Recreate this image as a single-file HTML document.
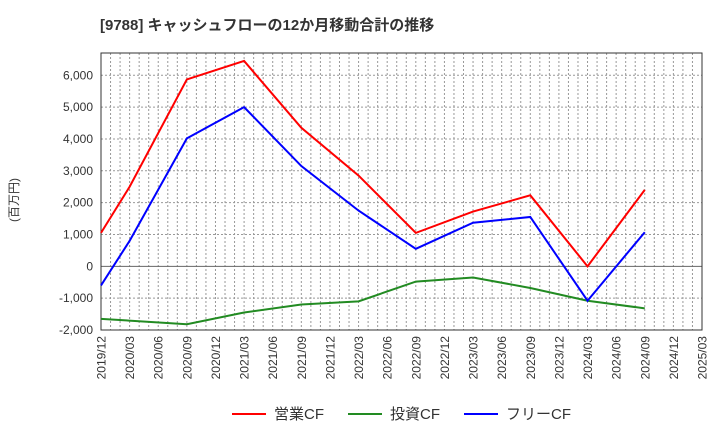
<!DOCTYPE html>
<html><head><meta charset="utf-8"><style>
body{margin:0;background:#fff;font-family:"Liberation Sans","Noto Sans CJK JP",sans-serif}
</style></head><body>
<svg id="c" width="720" height="440" xmlns="http://www.w3.org/2000/svg">
<text x="100" y="30" font-size="15" font-weight="bold" fill="#333" font-family="Liberation Sans, Noto Sans CJK JP, sans-serif">[9788]  キャッシュフローの12か月移動合計の推移</text>
<text transform="translate(18,200) rotate(-90)" text-anchor="middle" font-size="12" fill="#333" font-family="Liberation Sans, Noto Sans CJK JP, sans-serif">(百万円)</text>
<g id="grid"></g><g id="axes"></g><g id="series"></g><g id="legend"></g>
</svg>
<script>
const xLabels=["2019/12","2020/03","2020/06","2020/09","2020/12","2021/03","2021/06","2021/09","2021/12","2022/03","2022/06","2022/09","2022/12","2023/03","2023/06","2023/09","2023/12","2024/03","2024/06","2024/09","2024/12","2025/03"];
const yTicks=[-2000,-1000,0,1000,2000,3000,4000,5000,6000];
const pointIdx=[0,1,3,5,7,9,11,13,15,17,19];
const opCF=[1050,2500,5870,6450,4350,2850,1050,1720,2230,0,2400];
const invIdx=[0,3,5,7,9,11,13,15,17,19];
const invCF=[-1650,-1820,-1450,-1200,-1100,-480,-350,-680,-1080,-1320];
const freeCF=[-600,800,4020,5000,3150,1750,550,1370,1550,-1080,1070];
const NS="http://www.w3.org/2000/svg";
const L=101,R=702,T=53,B=330,yMin=-2000,yMax=6700;
const xs=i=>L+(R-L)*i/(xLabels.length-1);
const ys=v=>B-(v-yMin)/(yMax-yMin)*(B-T);
function mk(t,a,p){const e=document.createElementNS(NS,t);for(const k in a)e.setAttribute(k,a[k]);p.appendChild(e);return e;}
const g=document.getElementById('grid'),ax=document.getElementById('axes'),s=document.getElementById('series'),lg=document.getElementById('legend');
for(let m=1;m<(xLabels.length-1)*3;m++){const x=L+(R-L)*m/((xLabels.length-1)*3);
const ln=mk('line',{x1:x,x2:x,y1:T,y2:B,stroke:'#999','stroke-dasharray':'2,2','stroke-width':1},g);

}
yTicks.forEach(v=>{const y=ys(v);
const ln=mk('line',{x1:L,x2:R,y1:y,y2:y,stroke:v===0?'#666':'#999','stroke-dasharray':v===0?'':'2,2','stroke-width':1},g);


const t=mk('text',{x:L-8,y:y+4,'text-anchor':'end','font-size':12,fill:'#333'},ax);t.textContent=v.toLocaleString('en-US');

});
const fr=mk('rect',{x:L,y:T,width:R-L,height:B-T,fill:'none',stroke:'#333'},ax);


xLabels.forEach((l,i)=>{const x=xs(i);const t=mk('text',{transform:`translate(${x+4.5},${B+6}) rotate(-90)`,'text-anchor':'end','font-size':12,fill:'#333'},ax);t.textContent=l;

});
function line(idx,vals,col,name){const p=mk('polyline',{points:vals.map((v,i)=>xs(idx[i])+','+ys(v)).join(' '),fill:'none',stroke:col,'stroke-width':2},s);

}
line(pointIdx,opCF,'#ff0000','operating-cf-line');
line(invIdx,invCF,'#228b22','investing-cf-line');
line(pointIdx,freeCF,'#0000ff','free-cf-line');
[["営業CF","#ff0000",232],["投資CF","#228b22",348],["フリーCF","#0000ff",464]].forEach(([n,c,x])=>{
const gg=mk('g',{},lg);

mk('line',{x1:x,x2:x+34,y1:414,y2:414,stroke:c,'stroke-width':2},gg);
const t=mk('text',{x:x+42,y:419,'font-size':15,fill:'#333'},gg);t.textContent=n;});
</script>
</body></html>
